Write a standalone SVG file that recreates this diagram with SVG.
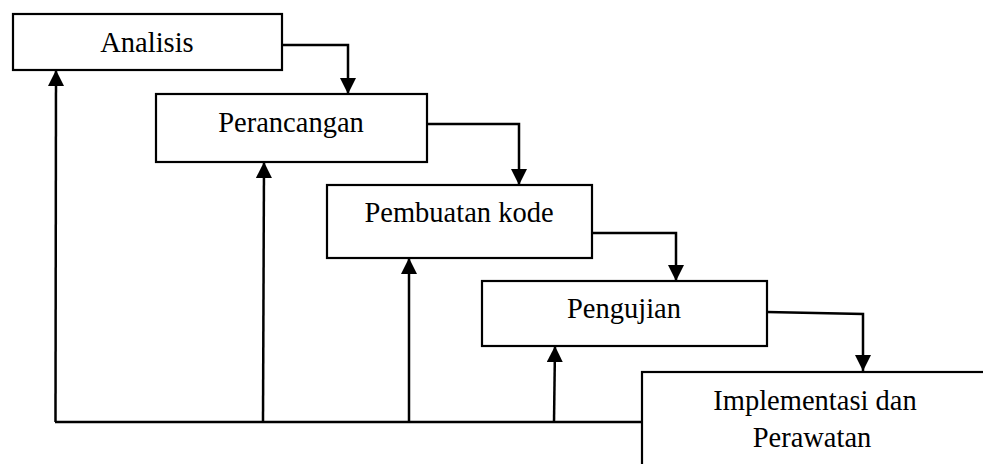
<svg xmlns="http://www.w3.org/2000/svg" width="983" height="464" viewBox="0 0 983 464">
<style>
.box{fill:#fff;stroke:#000;stroke-width:2.2}
.lbl{font-family:"Liberation Serif","Times New Roman",serif;font-size:28.5px;fill:#000;text-anchor:middle}
.ln{fill:none;stroke:#000;stroke-width:2.5}
</style>
<defs>
<marker id="ah" viewBox="0 0 16 16" refX="16" refY="8" markerWidth="16" markerHeight="16" markerUnits="userSpaceOnUse" orient="auto">
<path d="M0,0 L16,8 L0,16 Z" fill="#000"/>
</marker>
</defs>
<g id="connectors">
<polyline class="ln" points="282,45 348,45 348,94" marker-end="url(#ah)"/>
<polyline class="ln" points="427,124 519,124 519,185" marker-end="url(#ah)"/>
<polyline class="ln" points="592,233 676,233 676,281" marker-end="url(#ah)"/>
<polyline class="ln" points="767,312 863,314 863,371" marker-end="url(#ah)"/>
<polyline class="ln" points="642,422 55,422"/>
<line class="ln" x1="55.5" y1="422" x2="56" y2="70" marker-end="url(#ah)"/>
<line class="ln" x1="263" y1="422" x2="264" y2="162" marker-end="url(#ah)"/>
<line class="ln" x1="409" y1="422" x2="409" y2="258" marker-end="url(#ah)"/>
<line class="ln" x1="554" y1="422" x2="555" y2="346" marker-end="url(#ah)"/>
</g>
<g id="analisis">
<rect class="box" x="13" y="14" width="269" height="56"/>
<text class="lbl" x="147" y="52">Analisis</text>
</g>
<g id="perancangan">
<rect class="box" x="156" y="94" width="271" height="68"/>
<text class="lbl" x="291" y="132">Perancangan</text>
</g>
<g id="pembuatan-kode">
<rect class="box" x="327" y="185" width="265" height="73"/>
<text class="lbl" x="459" y="222">Pembuatan kode</text>
</g>
<g id="pengujian">
<rect class="box" x="482" y="281" width="285" height="65"/>
<text class="lbl" x="624" y="318">Pengujian</text>
</g>
<g id="implementasi">
<rect class="box" x="642" y="372" width="360" height="120"/>
<text class="lbl" x="815" y="410">Implementasi dan</text>
<text class="lbl" x="812" y="447">Perawatan</text>
</g>
</svg>
